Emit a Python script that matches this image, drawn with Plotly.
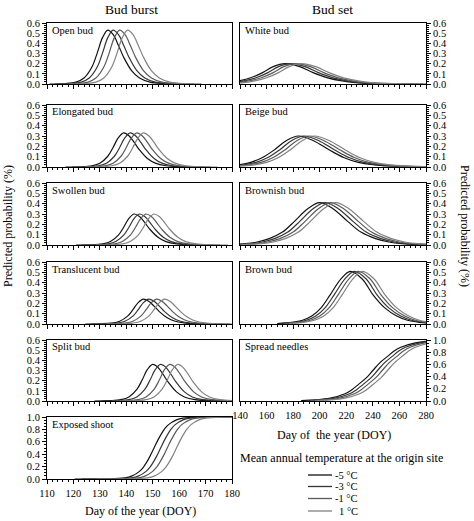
import plotly.graph_objects as go

# ---------------- data ----------------
temps = ["-5 °C", "-3 °C", "-1 °C", "1 °C"]

# Bud burst (left column)
open_bud_p = [0.000, 0.004, 0.019, 0.059, 0.167, 0.304, 0.456, 0.53, 0.487, 0.382, 0.264, 0.132, 0.059, 0.019, 0.003, 0.001]
open_bud_doy = [
    [111, 117, 121, 124, 127, 129, 131, 133, 135, 137, 139, 142, 145, 149, 155, 161],
    [113, 119, 123, 126, 129, 131, 133, 135, 137, 139, 141, 144, 147, 151, 157, 163],
    [115.5, 121.5, 125.5, 128.5, 131.5, 133.5, 135.5, 137.5, 139.5, 141.5, 143.5, 146.5, 149.5, 153.5, 159.5, 165.5],
    [118.5, 124.5, 128.5, 131.5, 134.5, 136.5, 138.5, 140.5, 142.5, 144.5, 146.5, 149.5, 152.5, 156.5, 162.5, 168.5],
]
elongated_p = [0.000, 0.002, 0.012, 0.037, 0.104, 0.189, 0.284, 0.33, 0.303, 0.238, 0.165, 0.082, 0.037, 0.012, 0.002, 0.000]
elongated_doy = [
    [117, 123, 127, 130, 133, 135, 137, 139, 141, 143, 145, 148, 151, 155, 161, 167],
    [119.5, 125.5, 129.5, 132.5, 135.5, 137.5, 139.5, 141.5, 143.5, 145.5, 147.5, 150.5, 153.5, 157.5, 163.5, 169.5],
    [122, 128, 132, 135, 138, 140, 142, 144, 146, 148, 150, 153, 156, 160, 166, 172],
    [124.5, 130.5, 134.5, 137.5, 140.5, 142.5, 144.5, 146.5, 148.5, 150.5, 152.5, 155.5, 158.5, 162.5, 168.5, 174.5],
]
swollen_p = [0.000, 0.002, 0.011, 0.033, 0.095, 0.172, 0.258, 0.30, 0.275, 0.216, 0.150, 0.075, 0.033, 0.011, 0.002, 0.000]
swollen_doy = [
    [121, 127, 131, 134, 137, 139, 141, 143, 145, 147, 149, 152, 155, 159, 165, 171],
    [123, 129, 133, 136, 139, 141, 143, 145, 147, 149, 151, 154, 157, 161, 167, 173],
    [125.5, 131.5, 135.5, 138.5, 141.5, 143.5, 145.5, 147.5, 149.5, 151.5, 153.5, 156.5, 159.5, 163.5, 169.5, 175.5],
    [128.5, 134.5, 138.5, 141.5, 144.5, 146.5, 148.5, 150.5, 152.5, 154.5, 156.5, 159.5, 162.5, 166.5, 172.5, 178.5],
]
translucent_p = [0.000, 0.002, 0.009, 0.027, 0.076, 0.138, 0.207, 0.24, 0.220, 0.173, 0.120, 0.060, 0.027, 0.009, 0.001, 0.000]
translucent_doy = [
    [124.5, 130.5, 134.5, 137.5, 140.5, 142.5, 144.5, 146.5, 148.5, 150.5, 152.5, 155.5, 158.5, 162.5, 168.5, 174.5],
    [126.5, 132.5, 136.5, 139.5, 142.5, 144.5, 146.5, 148.5, 150.5, 152.5, 154.5, 157.5, 160.5, 164.5, 170.5, 176.5],
    [129.5, 135.5, 139.5, 142.5, 145.5, 147.5, 149.5, 151.5, 153.5, 155.5, 157.5, 160.5, 163.5, 167.5, 173.5, 179.5],
    [132.5, 138.5, 142.5, 145.5, 148.5, 150.5, 152.5, 154.5, 156.5, 158.5, 160.5, 163.5, 166.5, 170.5, 176.5, 182.5],
]
split_p = [0.000, 0.003, 0.013, 0.040, 0.114, 0.206, 0.310, 0.36, 0.330, 0.259, 0.180, 0.090, 0.040, 0.013, 0.002, 0.000]
split_doy = [
    [128, 134, 138, 141, 144, 146, 148, 150, 152, 154, 156, 159, 162, 166, 172, 178],
    [131, 137, 141, 144, 147, 149, 151, 153, 155, 157, 159, 162, 165, 169, 175, 181],
    [134.5, 140.5, 144.5, 147.5, 150.5, 152.5, 154.5, 156.5, 158.5, 160.5, 162.5, 165.5, 168.5, 172.5, 178.5, 184.5],
    [137.5, 143.5, 147.5, 150.5, 153.5, 155.5, 157.5, 159.5, 161.5, 163.5, 165.5, 168.5, 171.5, 175.5, 181.5, 187.5],
]
exposed_p = [0.0, 0.002, 0.019, 0.046, 0.123, 0.193, 0.255, 0.369, 0.5, 0.631, 0.745, 0.807, 0.877, 0.954, 0.981, 0.998, 1.0]
exposed_doy = [
    [120.5, 133.5, 139.5, 142, 145, 146.5, 147.5, 149, 150.5, 152, 153.5, 154.5, 156, 159, 161.5, 167.5, 180.5],
    [123, 136, 142, 144.5, 147.5, 149, 150, 151.5, 153, 154.5, 156, 157, 158.5, 161.5, 164, 170, 183],
    [125.5, 138.5, 144.5, 147, 150, 151.5, 152.5, 154, 155.5, 157, 158.5, 159.5, 161, 164, 166.5, 172.5, 185.5],
    [129, 142, 148, 150.5, 153.5, 155, 156, 157.5, 159, 160.5, 162, 163, 164.5, 167.5, 170, 176, 189],
]

# Bud set (right column)
white_p = [0.002, 0.006, 0.014, 0.030, 0.061, 0.112, 0.171, 0.20, 0.171, 0.112, 0.061, 0.030, 0.014, 0.006, 0.002, 0.001]
white_doy = [
    [109, 122, 131, 139, 148, 157, 165, 174, 185, 195, 206, 217, 227, 238, 254, 270],
    [113, 126, 135, 143, 152, 161, 169, 178, 189, 199, 210, 221, 231, 242, 258, 274],
    [117, 130, 139, 147, 156, 165, 173, 182, 193, 203, 214, 225, 235, 246, 262, 278],
    [121, 134, 143, 151, 160, 169, 177, 186, 197, 207, 218, 229, 239, 250, 266, 282],
]
beige_p = [0.003, 0.010, 0.021, 0.045, 0.092, 0.167, 0.257, 0.30, 0.257, 0.167, 0.092, 0.045, 0.021, 0.010, 0.003, 0.001]
beige_doy = [
    [116, 129, 139, 148, 157, 166, 175, 184, 195, 207, 218, 229, 241, 252, 269, 286],
    [120, 133, 143, 152, 161, 170, 179, 188, 199, 211, 222, 233, 245, 256, 273, 290],
    [124, 137, 147, 156, 165, 174, 183, 192, 203, 215, 226, 237, 249, 260, 277, 294],
    [128, 141, 151, 160, 169, 178, 187, 196, 207, 219, 230, 241, 253, 264, 281, 298],
]
brownish_p = [0.004, 0.013, 0.029, 0.062, 0.125, 0.229, 0.351, 0.41, 0.351, 0.229, 0.125, 0.062, 0.029, 0.013, 0.004, 0.001]
brownish_doy = [
    [129, 144, 153, 162, 172, 181, 191, 200, 210, 221, 231, 242, 252, 262, 278, 294],
    [133, 148, 157, 166, 176, 185, 195, 204, 214, 225, 235, 246, 256, 266, 282, 298],
    [137, 152, 161, 170, 180, 189, 199, 208, 218, 229, 239, 250, 260, 270, 286, 302],
    [141, 156, 165, 174, 184, 193, 203, 212, 222, 233, 243, 254, 264, 274, 290, 306],
]
brown_p = [0.005, 0.016, 0.036, 0.077, 0.156, 0.285, 0.436, 0.51, 0.436, 0.285, 0.156, 0.077, 0.036, 0.016, 0.005, 0.002]
brown_doy = [
    [168, 179, 187, 194, 201, 208, 216, 223, 232, 240, 249, 258, 266, 275, 288, 301],
    [171, 182, 190, 197, 204, 211, 219, 226, 235, 243, 252, 261, 269, 278, 291, 304],
    [174, 185, 193, 200, 207, 214, 222, 229, 238, 246, 255, 264, 272, 281, 294, 307],
    [177, 188, 196, 203, 210, 217, 225, 232, 241, 249, 258, 267, 275, 284, 297, 310],
]
spread_p = [0.007, 0.018, 0.047, 0.119, 0.182, 0.269, 0.378, 0.5, 0.622, 0.731, 0.818, 0.881, 0.953, 0.982, 0.993]
spread_doy = [
    [186, 197, 208, 219, 224, 229, 235, 240, 245, 251, 256, 261, 272, 283, 294],
    [189.5, 200.5, 211.5, 222.5, 227.5, 232.5, 238.5, 243.5, 248.5, 254.5, 259.5, 264.5, 275.5, 286.5, 297.5],
    [193, 204, 215, 226, 231, 236, 242, 247, 252, 258, 263, 268, 279, 290, 301],
    [197, 208, 219, 230, 235, 240, 246, 251, 256, 262, 267, 272, 283, 294, 305],
]

left_labels = ["Open bud", "Elongated bud", "Swollen bud", "Translucent bud", "Split bud", "Exposed shoot"]
right_labels = ["White bud", "Beige bud", "Brownish bud", "Brown bud", "Spread needles"]

# ---------------- styling / layout ----------------
W, H = 474, 521
FONT = "Liberation Serif"
colors = ["#111111", "#343434", "#595959", "#828282"]

def fx(p):
    return p / W

def fy(p):
    return 1 - p / H

rows = [(23, 84), (105, 167), (183, 245), (262, 324), (340, 401), (417, 479)]
left_x = (47, 232)
right_x = (240, 426)

panels = [
    ("L", 0, open_bud_doy, open_bud_p, 0.6),
    ("L", 1, elongated_doy, elongated_p, 0.6),
    ("L", 2, swollen_doy, swollen_p, 0.6),
    ("L", 3, translucent_doy, translucent_p, 0.6),
    ("L", 4, split_doy, split_p, 0.6),
    ("L", 5, exposed_doy, exposed_p, 1.0),
    ("R", 0, white_doy, white_p, 0.6),
    ("R", 1, beige_doy, beige_p, 0.6),
    ("R", 2, brownish_doy, brownish_p, 0.6),
    ("R", 3, brown_doy, brown_p, 0.6),
    ("R", 4, spread_doy, spread_p, 1.0),
]
labels = left_labels + right_labels

fig = go.Figure()
layout = {}
annotations = []
tickfont = dict(family=FONT, size=10.5, color="black")

for i, (col, row, doys, probs, ymax) in enumerate(panels):
    n = i + 1
    xs = "x" if n == 1 else f"x{n}"
    ys = "y" if n == 1 else f"y{n}"
    for k in range(4):
        fig.add_trace(go.Scatter(
            x=doys[k], y=probs, mode="lines", name=temps[k],
            line=dict(color=colors[k], width=1.2, shape="spline", smoothing=1.0),
            xaxis=xs, yaxis=ys, showlegend=False, hoverinfo="skip"))
    top, bot = rows[row]
    xd = left_x if col == "L" else right_x
    is_bottom = (col == "L" and row == 5) or (col == "R" and row == 4)
    xr = [110, 180] if col == "L" else [140, 280]
    layout["xaxis" if n == 1 else f"xaxis{n}"] = dict(
        domain=[fx(xd[0]), fx(xd[1])], range=xr, anchor=ys,
        dtick=10 if col == "L" else 20, tick0=0,
        ticks="outside", ticklen=4, tickwidth=1, tickcolor="black",
        minor=dict(dtick=2 if col == "L" else 4, ticks="outside", ticklen=2,
                   tickcolor="black", showgrid=False),
        showline=True, linecolor="black", linewidth=1, mirror=True,
        showgrid=False, zeroline=False, showticklabels=is_bottom,
        tickfont=tickfont, fixedrange=True, automargin=False)
    layout["yaxis" if n == 1 else f"yaxis{n}"] = dict(
        domain=[fy(bot), fy(top)], range=[0, ymax], anchor=xs,
        side="left" if col == "L" else "right",
        dtick=0.1 if ymax < 1 else 0.2, tick0=0, tickformat=".1f",
        ticks="outside", ticklen=4, tickwidth=1, tickcolor="black",
        minor=dict(dtick=0.02 if ymax < 1 else 0.05, ticks="outside", ticklen=2,
                   tickcolor="black", showgrid=False),
        showline=True, linecolor="black", linewidth=1, mirror=True,
        showgrid=False, zeroline=False, tickfont=tickfont, fixedrange=True,
        automargin=False)
    annotations.append(dict(
        text=labels[i], x=fx(xd[0] + 3), y=fy(top + 7), xref="paper", yref="paper",
        xanchor="left", yanchor="middle", showarrow=False,
        font=dict(family=FONT, size=10.5, color="black")))

def text(t, x, y, size, angle=0, xanchor="center"):
    annotations.append(dict(text=t, x=fx(x), y=fy(y), xref="paper", yref="paper",
                            xanchor=xanchor, yanchor="middle", showarrow=False,
                            textangle=angle, font=dict(family=FONT, size=size, color="black")))

text("Bud burst", 131, 9, 13.5)
text("Bud set", 332, 9, 13.5)
text("Day of the year (DOY)", 140, 511, 12)
text("Day of  the year (DOY)", 334, 435, 12)
text("Predicted probability (%)", 8, 226, 12, angle=-90)
text("Predicted probability (%)", 465, 226, 12, angle=90)
text("Mean annual temperature at the origin site", 341.5, 458, 12)

# legend drawn as key lines + labels
shapes = []
leg_y = [475, 486.5, 498.5, 511]
for k in range(4):
    shapes.append(dict(type="line", xref="paper", yref="paper",
                       x0=fx(308), x1=fx(332), y0=fy(leg_y[k]), y1=fy(leg_y[k]),
                       line=dict(color=colors[k], width=1.3)))
    text(temps[k], 359.5, leg_y[k], 10.5, xanchor="right")

fig.update_layout(
    width=W, height=H, autosize=False,
    margin=dict(l=0, r=0, t=0, b=0, pad=0),
    paper_bgcolor="white", plot_bgcolor="white",
    annotations=annotations, shapes=shapes, showlegend=False,
    font=dict(family=FONT, color="black"),
    **layout)

fig.write_html("out.html", config={"displayModeBar": False},
               post_script="document.body.style.margin='0';document.body.style.overflow='hidden';")
